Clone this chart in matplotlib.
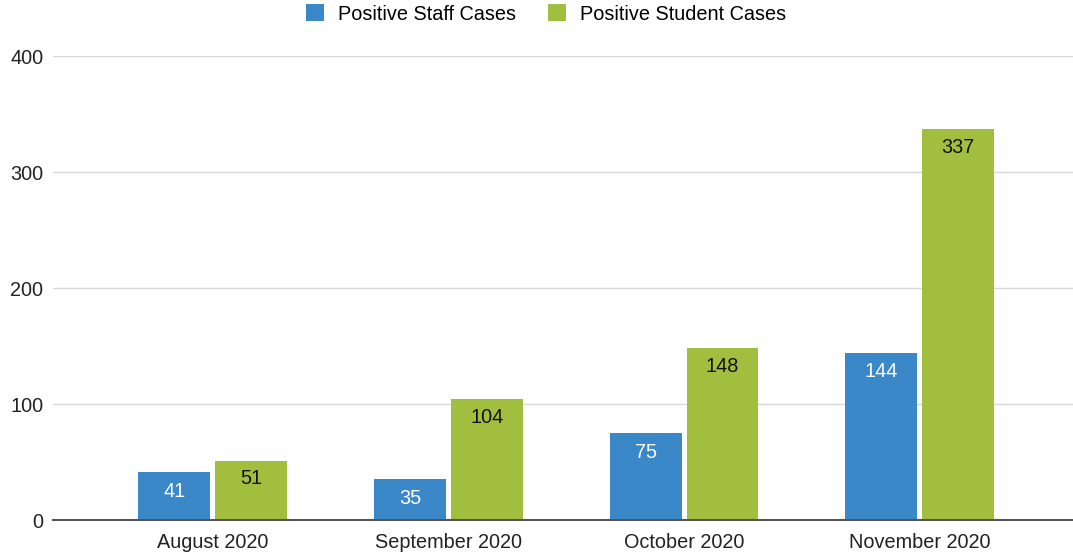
import matplotlib
matplotlib.use("Agg")
import matplotlib.pyplot as plt
import numpy as np

categories = ["August 2020", "September 2020", "October 2020", "November 2020"]
staff = [41, 35, 75, 144]
students = [51, 104, 148, 337]
series_names = ["Positive Staff Cases", "Positive Student Cases"]
yticks = [0, 100, 200, 300, 400]

blue = "#3a88c8"
green = "#a2be3f"

plt.rcParams['font.family'] = ['Liberation Sans', 'DejaVu Sans']
FS = 14.3

W, H = 1073, 552
fig = plt.figure(figsize=(W / 100, H / 100), dpi=100)
ax = fig.add_axes([53 / W, 1 - 520 / H, (1073 - 53) / W, (520 - 56) / H])

x = np.arange(len(categories))
bw = 0.305
off = 0.163
b1 = ax.bar(x - off, staff, bw, color=blue, label=series_names[0], zorder=3)
b2 = ax.bar(x + off, students, bw, color=green, label=series_names[1], zorder=3)

for rect, v in zip(b1, staff):
    ax.annotate(str(v), (rect.get_x() + rect.get_width() / 2, v), xytext=(0, -19),
                textcoords='offset pixels', ha='center', va='center',
                color='white', fontsize=FS, zorder=4)
for rect, v in zip(b2, students):
    ax.annotate(str(v), (rect.get_x() + rect.get_width() / 2, v), xytext=(0, -18),
                textcoords='offset pixels', ha='center', va='center',
                color='#111111', fontsize=FS, zorder=4)

ax.set_ylim(0, 400)
ax.set_xlim(-0.678, 3.65)
ax.set_yticks(yticks)
ax.set_yticklabels([str(t) for t in yticks], fontsize=FS, color='#222222')
ax.set_xticks(x)
ax.set_xticklabels(categories, fontsize=FS, color='#222222')
ax.tick_params(axis='both', length=0)
ax.tick_params(axis='y', pad=7)
ax.tick_params(axis='x', pad=9)
ax.grid(axis='y', color='#d9d9d9', linewidth=1, zorder=0)
for s in ['top', 'right', 'left']:
    ax.spines[s].set_visible(False)
ax.spines['bottom'].set_color('#555555')
ax.spines['bottom'].set_linewidth(1.5)
ax.spines['bottom'].set_zorder(5)

fig.legend(handles=[b1, b2], labels=series_names, loc='center', bbox_to_anchor=(546 / W, 1 - 14 / H),
           ncol=2, frameon=False, fontsize=FS, handlelength=0.9, handleheight=0.9,
           columnspacing=1.6, handletextpad=0.7)

fig.savefig("out.png", dpi=100, facecolor='white')
